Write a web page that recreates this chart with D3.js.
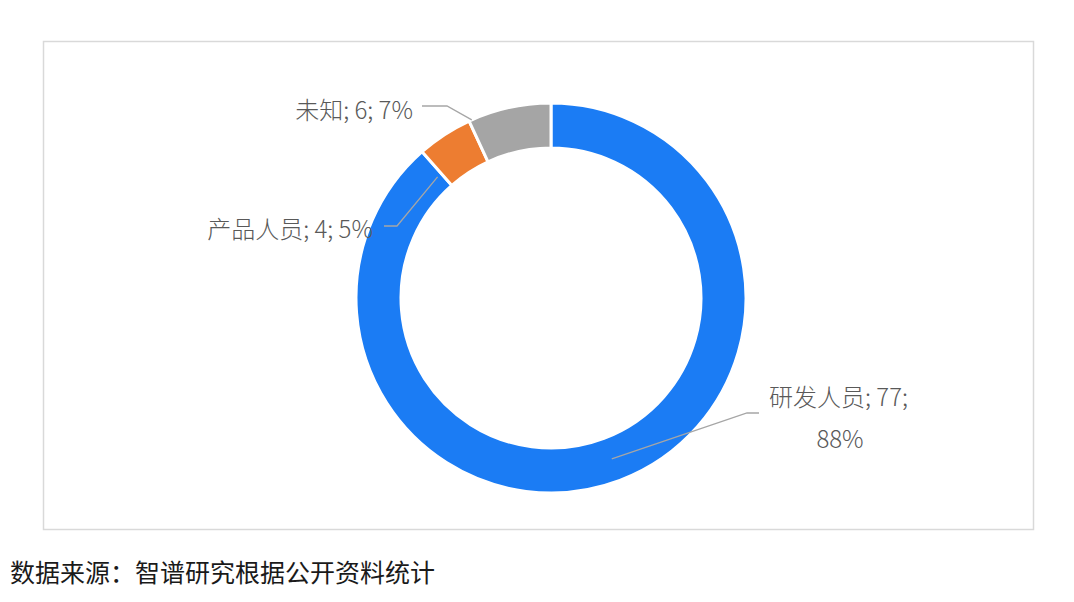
<!DOCTYPE html>
<html>
<head>
<meta charset="utf-8">
<script src="https://cdn.jsdelivr.net/npm/d3@7"></script>
<style>
  body { margin: 0; background: #fff; }
  text { font-family: "Noto Sans CJK SC", "Noto Sans", sans-serif; }
</style>
</head>
<body>
<script>
// data
var categories = ["研发人员", "产品人员", "未知"];
var counts = [77, 4, 6];
var percents = ["88%", "5%", "7%"];
var colors = ["#1b7cf4", "#ed7d31", "#a5a5a5"];
var source = "数据来源：智谱研究根据公开资料统计";

var width = 1074,
	height = 602;

var cx = 551, cy = 298,
	outerR = 195, innerR = 150;

var svg = d3.select("body")
	.append("svg")
	.attr("width", width)
	.attr("height", height);

// chart frame
svg.append("rect")
	.attr("x", 43.5)
	.attr("y", 41.5)
	.attr("width", 990)
	.attr("height", 488)
	.attr("fill", "#fff")
	.attr("stroke", "#d9d9d9")
	.attr("stroke-width", 1.5);

var pie = d3.pie().sort(null).value(function(d) { return d; });
var arcs = pie(counts);

var arc = d3.arc().innerRadius(innerR).outerRadius(outerR);

var g = svg.append("g").attr("transform", "translate(" + cx + "," + cy + ")");

g.selectAll("path")
	.data(arcs)
	.enter().append("path")
	.attr("d", arc)
	.attr("fill", function(d, i) { return colors[i]; })
	.attr("stroke", "#fff")
	.attr("stroke-width", 3);

// point on the ring at angle a (clockwise from top), radius r
function ringPoint(a, r) {
	return [cx + r * Math.sin(a), cy - r * Math.cos(a)];
}

// label layout: text position and where each leader line touches its slice
var layout = [
	{ x: 769, y: 395, anchor: "start", twoLines: true, side: "right",
		target: function(d) { return ringPoint((d.startAngle + d.endAngle) / 2, 172); } },
	{ x: 373, y: 227, anchor: "end", twoLines: false, side: "left",
		target: function(d) { return ringPoint(d.startAngle - 0.03, 166); } },
	{ x: 413, y: 108, anchor: "end", twoLines: false, side: "left",
		target: function(d) { return ringPoint(d.startAngle + 0.015, outerR); } }
];

var line = d3.line();

arcs.forEach(function(d, i) {
	var L = layout[i];
	var pts;
	if (L.side === "right") {
		pts = [[L.x - 10, L.y + 18], [L.x - 22, L.y + 18], L.target(d)];
	} else if (i === 1) {
		pts = [[L.x + 11, L.y - 1], [L.x + 24, L.y - 1], L.target(d)];
	} else {
		pts = [[L.x + 9, L.y - 2], [L.x + 34, L.y - 2], L.target(d)];
	}
	svg.append("path")
		.attr("d", line(pts))
		.attr("fill", "none")
		.attr("stroke", "#a6a6a6")
		.attr("stroke-width", 1.3);
});

arcs.forEach(function(d, i) {
	var L = layout[i];
	var t = svg.append("text")
		.attr("font-size", 24)
		.attr("font-weight", 300)
		.attr("fill", "#595959")
		.attr("dominant-baseline", "central");
	if (L.twoLines) {
		t.append("tspan")
			.attr("x", L.x).attr("y", L.y)
			.attr("text-anchor", "start")
			.text(categories[i] + "; " + counts[i] + ";");
		t.append("tspan")
			.attr("x", L.x + 71).attr("y", L.y + 42)
			.attr("text-anchor", "middle")
			.text(percents[i]);
	} else {
		t.attr("x", L.x).attr("y", L.y)
			.attr("text-anchor", L.anchor)
			.text(categories[i] + "; " + counts[i] + "; " + percents[i]);
	}
});

// source note
svg.append("text")
	.attr("x", 10)
	.attr("y", 571)
	.attr("dominant-baseline", "central")
	.attr("font-size", 25)
	.attr("fill", "#1a1a1a")
	.text(source);
</script>
</body>
</html>
